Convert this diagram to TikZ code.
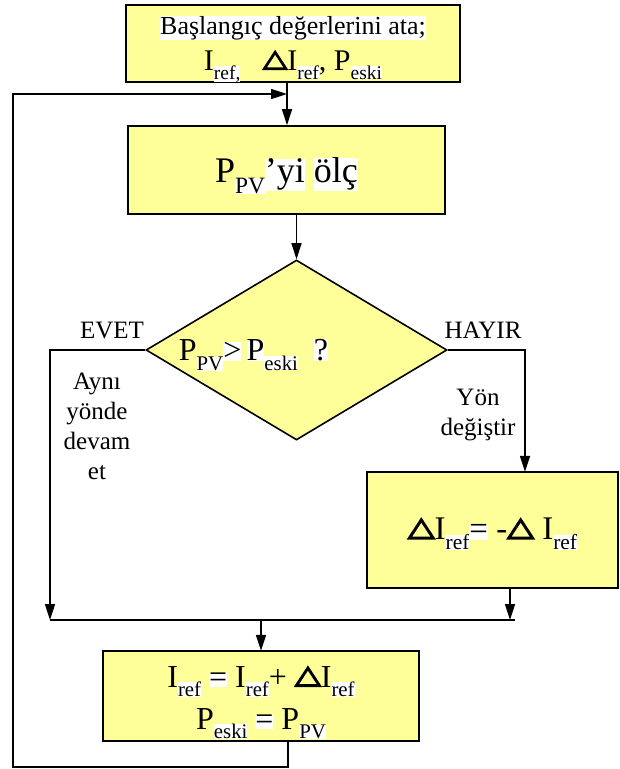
\documentclass[tikz,border=0pt]{standalone}
\usepackage{fontspec}
\usepackage{graphicx}
\setmainfont{Liberation Serif}
\usetikzlibrary{shapes.geometric,arrows.meta}
\definecolor{boxyellow}{RGB}{255,255,153}
\setlength{\fboxsep}{0pt}
\newcommand{\hl}[1]{\colorbox{white}{#1}}
\newcommand{\lo}[1]{\raisebox{-0.3em}{\hl{\scalebox{0.65}{#1}}}}
\newcommand{\down}[2]{\raisebox{-#1}[\height][\depth]{#2}}
\newcommand{\dlt}{\tikz[baseline=0pt, x=1pt, y=1pt] \draw[line width=0.09em, line join=miter] (0.05em,0.05em) -- (0.77em,0.05em) -- (0.41em,0.6em) -- cycle;}

\begin{document}
\begin{tikzpicture}[x=1pt, y=-1pt, line width=1.6pt, >={Triangle[length=16pt,width=10pt]},
  box/.style={draw, fill=boxyellow, inner sep=0pt, align=center},
  decision/.style={draw, diamond, fill=boxyellow, inner sep=0pt, minimum width=301pt, minimum height=180pt},
  lbl/.style={font=\fontsize{25}{30}\selectfont, align=center, inner sep=0pt}]
\useasboundingbox (0,0) rectangle (619,769);
\node[box, minimum width=334pt, minimum height=77pt, font=\fontsize{26}{35}\selectfont] (start) at (293,43.5) {\down{2.5pt}{\begin{tabular}{@{}c@{}}\hl{Başlangıç değerlerini ata;}\\[1pt] \fontsize{30}{35}\selectfont I\lo{ref,}\enspace\ \dlt I\lo{ref}, P\lo{eski}\end{tabular}}};
\node[box, minimum width=317pt, minimum height=88pt, font=\fontsize{36}{40}\selectfont] (measure) at (286.5,170) {\down{6pt}{P\lo{PV}\hl{’yi} \hl{ölç}}};
\node[decision, label={[xshift=-43pt, yshift=-5pt, font=\fontsize{32}{36}\selectfont]center:P\lo{PV}\hl{>}\,\hl{P}\lo{eski}\ \ \hl{?}}] (check) at (296.5,350) {};
\node[box, minimum width=251pt, minimum height=116pt, font=\fontsize{33}{36}\selectfont] (flip) at (492.5,530) {\down{4pt}{\dlt I\lo{ref}\hl{=} -\dlt\ I\lo{ref}}};
\node[box, minimum width=316pt, minimum height=90pt, font=\fontsize{32}{36}\selectfont] (update) at (261,696) {\down{5pt}{\begin{tabular}{@{}c@{}}I\lo{ref}\ \hl{=} I\lo{ref}+ \dlt I\lo{ref}\\[6pt] P\lo{eski}\ \hl{=} P\lo{PV}\end{tabular}}};
\node[lbl] (yes) at (112,330) {EVET};
\node[lbl] (no) at (483,330) {HAYIR};
\node[lbl] (keep) at (97,426) {Aynı\\yönde\\devam\\et};
\node[lbl] (turn) at (478,415) {Yön\\değiştir};
\coordinate (loopin) at (287,94);
\coordinate (jl) at (50,620);
\coordinate (jr) at (515,620);
\draw[->] (start.south -| loopin) -- (measure.north -| loopin);
\draw[->] (check.north |- measure.south) -- (check.north);
\draw[->] (check.west) -| (jl);
\draw[->] (check.east) -| ([xshift=32.5pt]flip.north);
\draw[->] ([xshift=17.5pt]flip.south) -- ([xshift=17.5pt]flip.south |- jr);
\draw (jl) -- (jr);
\draw[->] (update.north |- jl) -- (update.north);
\draw[->] ([xshift=27pt]update.south) |- (13,767) |- (loopin);
\end{tikzpicture}
\end{document}
